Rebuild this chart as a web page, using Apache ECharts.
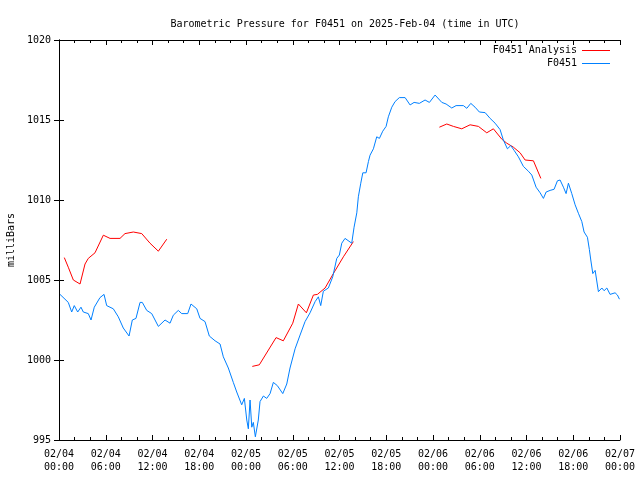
<!DOCTYPE html>
<html>
<head>
<meta charset="utf-8">
<script src="https://cdn.jsdelivr.net/npm/echarts@6/dist/echarts.min.js"></script>
<style>
html,body{margin:0;padding:0;background:#fff;}
#chart{width:640px;height:480px;}
</style>
</head>
<body>
<div id="chart"></div>
<script>
// Time values are hours since 2025-02-04 00:00 UTC
var titleText = 'Barometric Pressure for F0451 on 2025-Feb-04 (time in UTC)';
var yAxisName = 'milliBars';
var seriesNames = ['F0451 Analysis', 'F0451'];

var analysisSeg1 = [
  [0.68,1006.4],[1.19,1005.8],[1.84,1005.0],[2.70,1004.75],[3.34,1006.0],[3.76,1006.35],
  [4.62,1006.7],[5.69,1007.8],[6.55,1007.6],[7.83,1007.6],[8.47,1007.9],[9.54,1008.0],
  [10.62,1007.9],[11.68,1007.3],[12.75,1006.8],[13.83,1007.55]
];
var analysisSeg2 = [
  [24.81,999.6],[25.71,999.7],[27.86,1001.4],[28.79,1001.2],[30.0,1002.3],[30.72,1003.5],
  [31.75,1002.95],[32.65,1004.06],[33.16,1004.1],[34.15,1004.5],[35.21,1005.4],
  [36.50,1006.45],[37.78,1007.4]
];
var analysisSeg3 = [
  [48.82,1014.55],[49.77,1014.75],[50.62,1014.6],[51.69,1014.45],[52.76,1014.7],
  [53.83,1014.6],[54.90,1014.2],[55.75,1014.45],[56.83,1013.8],[57.47,1013.55],
  [58.32,1013.3],[59.18,1012.95],[59.82,1012.5],[60.89,1012.45],[61.84,1011.35]
];

var stationData = [
  [0.13,1004.1],[0.77,1003.8],[1.19,1003.6],[1.63,1003.0],[1.96,1003.4],[2.40,1003.0],
  [2.82,1003.3],[3.12,1003.0],[3.76,1002.9],[4.11,1002.5],[4.53,1003.3],[5.26,1003.9],
  [5.78,1004.1],[6.12,1003.4],[6.97,1003.2],[7.61,1002.7],[8.25,1002.0],[8.99,1001.5],
  [9.41,1002.5],[9.88,1002.6],[10.40,1003.6],[10.69,1003.6],[11.26,1003.1],[11.90,1002.9],
  [12.75,1002.1],[13.61,1002.5],[14.25,1002.3],[14.67,1002.8],[15.31,1003.1],[15.75,1002.9],
  [16.52,1002.9],[16.94,1003.5],[17.68,1003.2],[18.10,1002.6],[18.74,1002.4],[19.29,1001.5],
  [20.03,1001.2],[20.67,1001.0],[21.09,1000.2],[21.73,999.5],[22.37,998.6],[22.81,998.0],
  [23.45,997.2],[23.79,997.6],[24.10,996.25],[24.30,995.7],[24.52,997.5],[24.74,995.8],
  [24.94,996.1],[25.20,995.2],[25.58,996.25],[25.80,997.4],[26.23,997.75],[26.66,997.6],
  [27.09,997.9],[27.51,998.6],[28.02,998.4],[28.72,997.9],[29.23,998.5],[29.65,999.5],
  [30.30,1000.7],[30.94,1001.56],[31.58,1002.4],[32.22,1002.95],[32.87,1003.65],[33.29,1003.95],
  [33.59,1003.4],[33.93,1004.3],[34.57,1004.5],[35.13,1005.2],[35.65,1006.35],[35.98,1006.56],
  [36.29,1007.3],[36.71,1007.6],[37.57,1007.3],[37.87,1008.3],[38.22,1009.2],[38.42,1010.2],
  [38.73,1011.05],[38.99,1011.7],[39.41,1011.7],[39.71,1012.4],[39.92,1012.8],[40.35,1013.2],
  [40.78,1013.95],[41.12,1013.85],[41.55,1014.3],[41.98,1014.6],[42.27,1015.2],[42.71,1015.8],
  [43.13,1016.15],[43.68,1016.4],[44.42,1016.4],[45.06,1015.94],[45.57,1016.1],[46.25,1016.04],
  [46.98,1016.25],[47.54,1016.1],[48.27,1016.56],[49.13,1016.1],[49.68,1016.0],[50.41,1015.75],
  [50.96,1015.9],[51.90,1015.9],[52.34,1015.73],[52.85,1016.04],[53.40,1015.8],[53.95,1015.5],
  [54.69,1015.46],[55.33,1015.1],[55.97,1014.8],[56.61,1014.4],[57.03,1013.75],[57.55,1013.2],
  [57.98,1013.4],[58.41,1013.1],[58.96,1012.7],[59.60,1012.1],[60.24,1011.8],[60.68,1011.56],
  [61.23,1010.8],[61.75,1010.45],[62.17,1010.1],[62.52,1010.5],[63.03,1010.6],[63.54,1010.67],
  [63.97,1011.2],[64.31,1011.25],[64.74,1010.8],[65.08,1010.4],[65.38,1011.05],[65.81,1010.4],
  [66.24,1009.7],[66.66,1009.17],[67.10,1008.65],[67.39,1008.0],[67.82,1007.67],[68.07,1006.9],
  [68.25,1006.25],[68.51,1005.4],[68.81,1005.6],[69.02,1005.6],[69.23,1004.27],[69.67,1004.5],
  [69.96,1004.33],[70.31,1004.5],[70.73,1004.1],[71.37,1004.2],[71.67,1004.06],[71.93,1003.8]
];

var xMin = 0, xMax = 72, xInterval = 6;
var yMin = 995, yMax = 1020, yInterval = 5;

var analysisData = analysisSeg1.concat([['-','-']], analysisSeg2, [['-','-']], analysisSeg3);

function fmtTime(v){
  var day = 4 + Math.floor(v / 24 + 1e-9);
  var hr = Math.round(v - (day - 4) * 24);
  var dd = (day < 10 ? '0' : '') + day;
  var hh = (hr < 10 ? '0' : '') + hr;
  return '02/' + dd + '\n' + hh + ':00';
}

var FONT = 'DejaVu Sans Mono';
var chart = echarts.init(document.getElementById('chart'), null, {renderer:'canvas'});
var axisLine = {show:true, lineStyle:{color:'#000', width:1}};
var majorTick = {show:true, inside:true, length:5, lineStyle:{color:'#000', width:1}};
var minorTick = {show:true, splitNumber:3, length:3, lineStyle:{color:'#000', width:1}};

chart.setOption({
  animation:false,
  backgroundColor:'#fff',
  title:{
    text:titleText, left:340, top:14, textAlign:'center',
    textStyle:{fontFamily:FONT, fontSize:10, fontWeight:'normal', color:'#000'}
  },
  legend:[
    {data:[seriesNames[0]], right:30, top:44, orient:'vertical', align:'right', icon:'rect',
     itemWidth:28, itemHeight:1, itemGap:0, padding:0,
     textStyle:{fontFamily:FONT, fontSize:10, color:'#000', lineHeight:13}},
    {data:[seriesNames[1]], right:30, top:57, orient:'vertical', align:'right', icon:'rect',
     itemWidth:28, itemHeight:1, itemGap:0, padding:0,
     textStyle:{fontFamily:FONT, fontSize:10, color:'#000', lineHeight:13}}
  ],
  grid:{left:59, right:20, top:40, bottom:40, containLabel:false, outerBoundsMode:'none'},
  xAxis:[
    {type:'value', position:'bottom', min:xMin, max:xMax, interval:xInterval,
     axisLine:axisLine, axisTick:majorTick, minorTick:minorTick, splitLine:{show:false},
     axisLabel:{formatter:fmtTime, fontFamily:FONT, fontSize:10, color:'#000', lineHeight:13, margin:8}},
    {type:'value', position:'top', min:xMin, max:xMax, interval:xInterval,
     axisLine:axisLine, axisTick:majorTick, minorTick:minorTick, splitLine:{show:false},
     axisLabel:{show:false}}
  ],
  yAxis:[
    {type:'value', position:'left', min:yMin, max:yMax, interval:yInterval,
     name:yAxisName, nameLocation:'middle', nameGap:43, nameRotate:90,
     nameTextStyle:{fontFamily:FONT, fontSize:10, color:'#000'},
     axisLine:axisLine, axisTick:majorTick, splitLine:{show:false},
     axisLabel:{fontFamily:FONT, fontSize:10, color:'#000', margin:8,
       formatter:function(v){ return String(v); }}},
    {type:'value', position:'right', min:yMin, max:yMax, interval:yInterval,
     axisLine:axisLine, axisTick:majorTick, splitLine:{show:false},
     axisLabel:{show:false}}
  ],
  series:[
    {name:seriesNames[0], type:'line', data:analysisData, showSymbol:false, symbol:'none',
     connectNulls:false, lineStyle:{color:'#ff0000', width:1}, itemStyle:{color:'#ff0000'}},
    {name:seriesNames[1], type:'line', data:stationData, showSymbol:false, symbol:'none',
     lineStyle:{color:'#0080ff', width:1}, itemStyle:{color:'#0080ff'}}
  ]
});
</script>
</body>
</html>
